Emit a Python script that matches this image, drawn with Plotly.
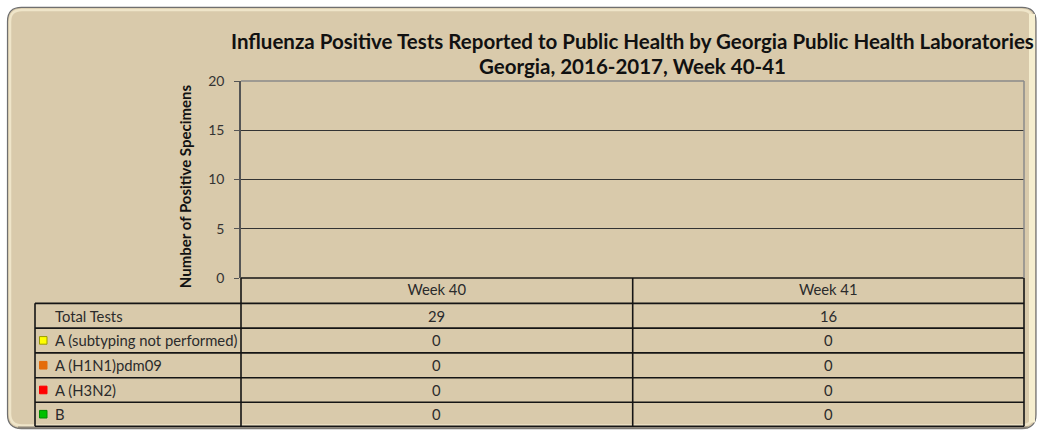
import plotly.graph_objects as go

weeks = ["Week 40", "Week 41"]
total_tests = [29, 16]
series_names = ["A (subtyping not performed)", "A (H1N1)pdm09", "A (H3N2)", "B"]
a_unsubtyped = [0, 0]
a_h1n1 = [0, 0]
a_h3n2 = [0, 0]
b_vals = [0, 0]
series_values = [a_unsubtyped, a_h1n1, a_h3n2, b_vals]
series_colors = ["#FFFF00", "#E46C0A", "#FF0000", "#00C000"]
series_borders = ["#9a9a00", "#E46C0A", "#FF0000", "#008a00"]
y_ticks = [0, 5, 10, 15, 20]
title_lines = ["Influenza Positive Tests Reported to Public Health by Georgia Public Health Laboratories",
               "Georgia, 2016-2017, Week 40-41"]

W, H = 1038, 432
L, R, T, B = 241, 1024, 81, 277.7
FONT = "Lato"
BG = "#D9CAAB"


def px(x):
    return (x - L) / (R - L)


def py(y):
    return (B - y) / (B - T)


def rrect(x0, y0, x1, y1, r):
    rx = r / (R - L)
    ry = r / (B - T)
    X0, X1 = px(x0), px(x1)
    Y0, Y1 = py(y0), py(y1)
    return (f"M {X0+rx},{Y0} L {X1-rx},{Y0} Q {X1},{Y0} {X1},{Y0-ry} "
            f"L {X1},{Y1+ry} Q {X1},{Y1} {X1-rx},{Y1} L {X0+rx},{Y1} "
            f"Q {X0},{Y1} {X0},{Y1+ry} L {X0},{Y0-ry} Q {X0},{Y0} {X0+rx},{Y0} Z")


fig = go.Figure()
for name, vals, col, bc in zip(series_names, series_values, series_colors, series_borders):
    fig.add_trace(go.Bar(x=weeks, y=vals, name=name, marker=dict(color=col, line=dict(color=bc, width=1)),
                         showlegend=False))

shapes = []
shapes.append(dict(type="path", path=rrect(7.5, 7.5, 1036, 428, 14), xref="paper", yref="paper",
                   fillcolor=BG, line=dict(color="#6f6f6f", width=1.2), layer="below"))
shapes.append(dict(type="path", path=rrect(10, 10, 1033, 425, 12), xref="paper", yref="paper",
                   fillcolor="rgba(0,0,0,0)", line=dict(color="#efe5c9", width=2.5), layer="below"))
shapes.append(dict(type="rect", x0=px(1029), x1=px(1035), y0=py(14), y1=py(422), xref="paper", yref="paper",
                   fillcolor="#f6eecf", line=dict(width=0), layer="below"))
shapes.append(dict(type="line", x0=px(18), x1=px(1028), y0=py(427), y1=py(427), xref="paper", yref="paper",
                   line=dict(color="#8c857a", width=2), layer="below"))

LC = "#151515"
LW = 1.6
row_lines = [303, 327.7, 352.5, 377.3, 401.7, 425.7]
for yl in row_lines:
    shapes.append(dict(type="line", x0=px(35), x1=1, y0=py(yl), y1=py(yl), xref="paper", yref="paper",
                       line=dict(color=LC, width=LW)))
for xl, yt in [(35, 303), (L, 277.7), (632.7, 277.7), (R, 277.7)]:
    shapes.append(dict(type="line", x0=px(xl), x1=px(xl), y0=py(yt), y1=py(425.7), xref="paper", yref="paper",
                       line=dict(color=LC, width=LW)))
shapes.append(dict(type="line", x0=0, x1=1, y0=0, y1=0, xref="paper", yref="paper",
                   line=dict(color=LC, width=LW)))

annotations = []
row_centers = [315.3, 340, 364.8, 389.5, 413.7]
row_labels = ["Total Tests"] + series_names
row_values = [total_tests] + series_values
TXT = "#2b2b2b"
FS = 14.8
for yc, lab, vals in zip(row_centers, row_labels, row_values):
    annotations.append(dict(text=lab, x=px(53), y=py(yc), xref="paper", yref="paper", xanchor="left",
                            yanchor="middle", showarrow=False, font=dict(family=FONT, size=FS, color=TXT)))
    for wk, v in zip(weeks, vals):
        annotations.append(dict(text=str(v), x=wk, y=py(yc), xref="x", yref="paper", xanchor="center",
                                yanchor="middle", showarrow=False, font=dict(family=FONT, size=FS, color=TXT)))
for yc, col, bc in zip(row_centers[1:], series_colors, series_borders):
    shapes.append(dict(type="rect", x0=px(39.5), x1=px(47), y0=py(yc - 3.8), y1=py(yc + 3.8), xref="paper",
                       yref="paper", fillcolor=col, line=dict(color=bc, width=1)))

annotations.append(dict(text="<b>Number of Positive Specimens</b>", x=px(185), y=py(186), xref="paper",
                        yref="paper", textangle=-90, showarrow=False, xanchor="center", yanchor="middle",
                        font=dict(family=FONT, size=15, color="#111111")))
for yc, t in zip([41, 66], title_lines):
    annotations.append(dict(text=f"<b>{t}</b>", x=px(632.5), y=py(yc), xref="paper", yref="paper",
                            showarrow=False, xanchor="center", yanchor="middle",
                            font=dict(family=FONT, size=20.5, color="#111111")))

fig.update_layout(
    width=W, height=H,
    margin=dict(l=L, r=W - R, t=T, b=H - B),
    paper_bgcolor="white", plot_bgcolor=BG,
    barmode="stack",
    xaxis=dict(type="category", range=[-0.5, 1.5], showgrid=False, showline=False, ticks="",
               tickfont=dict(family=FONT, size=FS, color=TXT), ticklabelstandoff=1, zeroline=False),
    yaxis=dict(range=[0, 20], tickvals=y_ticks, showgrid=True, gridcolor="#333333", gridwidth=1,
               showline=True, linecolor="#555555", linewidth=1.5, ticks="outside", ticklen=5,
               tickcolor="#555555", tickfont=dict(family=FONT, size=14, color="#333333"), zeroline=False,
               ticklabelstandoff=7, mirror=False),
    shapes=shapes, annotations=annotations,
    bargap=0.5,
)
fig.add_shape(type="line", x0=0, x1=1, y0=1, y1=1, xref="paper", yref="paper", line=dict(color="#8a8a8a", width=1.5))
fig.add_shape(type="line", x0=1, x1=1, y0=0, y1=1, xref="paper", yref="paper", line=dict(color="#8a8a8a", width=1.5))

fig.write_html("out.html", config={"displayModeBar": False},
               post_script="document.body.style.margin='0px';document.body.style.overflow='hidden';")
